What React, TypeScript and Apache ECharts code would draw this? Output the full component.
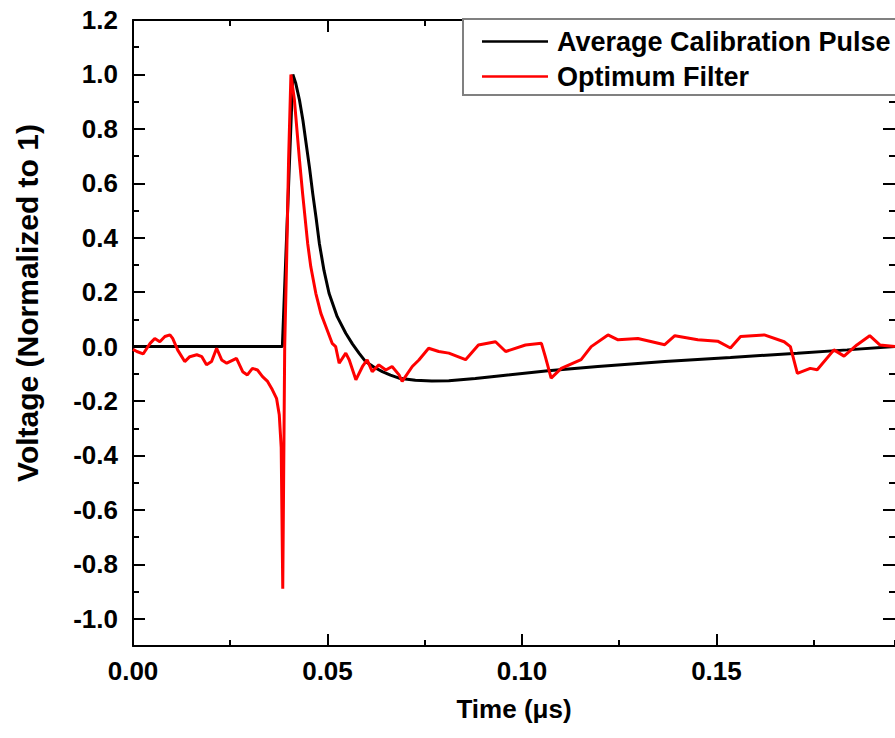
import { useEffect, useRef } from "react";
import * as echarts from "echarts";

// Axis ranges / ticks
const X_MIN = 0;
const X_MAX = 0.1959;
const X_MAJOR = 0.05;
const X_MINOR = 0.025;
const Y_MIN = -1.1;
const Y_MAX = 1.2;
const Y_MINOR = 0.1;

const SERIES_NAMES = ["Average Calibration Pulse", "Optimum Filter"];

// Average Calibration Pulse (black)
const blackT = [
  0, 0.0384, 0.0411, 0.0418, 0.0428, 0.0437, 0.0445, 0.0454, 0.0462, 0.0471,
  0.0479, 0.0491, 0.0504, 0.0525, 0.0547, 0.0564, 0.0581, 0.0598, 0.062,
  0.0641, 0.0662, 0.0684, 0.0726, 0.0768, 0.0812, 0.088, 0.094, 0.1067,
  0.1195, 0.1367, 0.1536, 0.1708, 0.1836, 0.1959,
];
const blackV = [
  0, 0, 1.0, 0.97, 0.906, 0.83, 0.747, 0.655, 0.563, 0.47, 0.38, 0.28, 0.196,
  0.11, 0.049, 0.01, -0.024, -0.055, -0.076, -0.092, -0.105, -0.116, -0.124,
  -0.126, -0.125, -0.117, -0.108, -0.089, -0.073, -0.055, -0.04, -0.024,
  -0.012, 0.0,
];

// Optimum Filter (red)
const redT = [
  0, 0.001, 0.0026, 0.0044, 0.0056, 0.0069, 0.0082, 0.0095, 0.0102, 0.0115,
  0.0133, 0.0146, 0.0164, 0.0177, 0.0189, 0.0202, 0.0215, 0.0228, 0.0241,
  0.0266, 0.0282, 0.0294, 0.0307, 0.032, 0.0333, 0.0346, 0.0358, 0.0369,
  0.0376, 0.0381, 0.0385, 0.039, 0.0395, 0.04, 0.0406, 0.0415, 0.0428,
  0.0436, 0.0449, 0.0457, 0.047, 0.0483, 0.0496, 0.0512, 0.0521, 0.053,
  0.0547, 0.0556, 0.0573, 0.059, 0.0602, 0.0615, 0.0632, 0.065, 0.0666,
  0.0684, 0.0692, 0.0718, 0.0735, 0.076, 0.0786, 0.0812, 0.0855, 0.0888,
  0.0932, 0.0958, 0.1009, 0.105, 0.106, 0.1075, 0.1101, 0.1152, 0.1178,
  0.1221, 0.1247, 0.1298, 0.1367, 0.1393, 0.1452, 0.1503, 0.1536, 0.1562,
  0.1623, 0.1674, 0.169, 0.1708, 0.1741, 0.1759, 0.1802, 0.1828, 0.1861,
  0.1894, 0.192, 0.1959,
];
const redV = [
  -0.01, -0.018, -0.027, 0.012, 0.03, 0.018, 0.037, 0.043, 0.03, -0.013,
  -0.055, -0.037, -0.03, -0.037, -0.067, -0.055, -0.006, -0.049, -0.061,
  -0.043, -0.092, -0.104, -0.08, -0.086, -0.11, -0.128, -0.158, -0.19, -0.25,
  -0.37, -0.89, 0.0, 0.32, 0.686, 1.0, 0.906, 0.686, 0.563, 0.38, 0.294,
  0.196, 0.122, 0.073, 0.012, 0.0, -0.061, -0.024, -0.049, -0.122, -0.073,
  -0.049, -0.092, -0.067, -0.086, -0.073, -0.104, -0.128, -0.073, -0.049,
  -0.006, -0.018, -0.024, -0.048, 0.006, 0.018, -0.018, 0.006, 0.012, -0.037,
  -0.116, -0.08, -0.048, 0.0, 0.043, 0.025, 0.03, 0.007, 0.04, 0.025, 0.02,
  -0.005, 0.037, 0.043, 0.018, 0.0, -0.098, -0.08, -0.085, -0.012, -0.035,
  0.006, 0.04, 0.006, 0.0,
];

const FONT = "'Liberation Sans', Arial, sans-serif";
const LEGEND_ICON = "path://M0,0H66V2.5H0Z";

export default function App() {
  const ref = useRef<HTMLDivElement>(null);

  useEffect(() => {
    if (!ref.current) return;
    const chart = echarts.init(ref.current, undefined, { renderer: "svg" });
    const axisLineStyle = { color: "#000", width: 2 };
    const labelStyle = {
      fontFamily: FONT,
      fontWeight: "bold" as const,
      fontSize: 26,
      color: "#000",
    };
    const xBase = {
      type: "value" as const,
      min: X_MIN,
      max: X_MAX,
      splitLine: { show: false },
    };
    const yBase = {
      type: "value" as const,
      min: Y_MIN,
      max: Y_MAX,
      splitLine: { show: false },
    };
    chart.setOption({
      animation: false,
      backgroundColor: "#fff",
      grid: { left: 133, right: -3, top: 20, bottom: 92, containLabel: false },
      xAxis: [
        {
          ...xBase,
          position: "bottom",
          interval: X_MAJOR,
          axisLine: { show: true, onZero: false, lineStyle: axisLineStyle },
          axisTick: { show: true, inside: true, length: 12, lineStyle: axisLineStyle },
          axisLabel: {
            ...labelStyle,
            margin: 12,
            showMaxLabel: false,
            formatter: (v: number) => v.toFixed(2),
          },
          name: "Time (\u03bcs)",
          nameLocation: "middle",
          nameGap: 50,
          nameTextStyle: { fontFamily: FONT, fontWeight: "bold", fontSize: 26, color: "#000" },
        },
        {
          ...xBase,
          position: "bottom",
          interval: X_MINOR,
          axisLine: { show: false, onZero: false },
          axisTick: { show: true, inside: true, length: 6, lineStyle: axisLineStyle },
          axisLabel: { show: false },
        },
        {
          ...xBase,
          position: "top",
          interval: X_MAJOR,
          axisLine: { show: true, onZero: false, lineStyle: axisLineStyle },
          axisTick: { show: true, inside: true, length: 12, lineStyle: axisLineStyle },
          axisLabel: { show: false },
        },
        {
          ...xBase,
          position: "top",
          interval: X_MINOR,
          axisLine: { show: false, onZero: false },
          axisTick: { show: true, inside: true, length: 6, lineStyle: axisLineStyle },
          axisLabel: { show: false },
        },
      ],
      yAxis: [
        {
          ...yBase,
          position: "left",
          splitNumber: 11,
          axisLine: { show: true, onZero: false, lineStyle: axisLineStyle },
          axisTick: { show: true, inside: true, length: 12, lineStyle: axisLineStyle },
          axisLabel: {
            ...labelStyle,
            margin: 15,
            showMinLabel: false,
            formatter: (v: number) => v.toFixed(1),
          },
        },
        {
          ...yBase,
          position: "left",
          interval: Y_MINOR,
          axisLine: { show: false, onZero: false },
          axisTick: { show: true, inside: true, length: 6, lineStyle: axisLineStyle },
          axisLabel: { show: false },
        },
        {
          ...yBase,
          position: "right",
          splitNumber: 11,
          axisLine: { show: false, onZero: false },
          axisTick: { show: true, inside: true, length: 12, lineStyle: axisLineStyle },
          axisLabel: { show: false },
        },
        {
          ...yBase,
          position: "right",
          interval: Y_MINOR,
          axisLine: { show: false, onZero: false },
          axisTick: { show: true, inside: true, length: 6, lineStyle: axisLineStyle },
          axisLabel: { show: false },
        },
      ],
      legend: {
        show: true,
        data: SERIES_NAMES.map((name) => ({ name, icon: LEGEND_ICON })),
        orient: "vertical",
        left: 463,
        top: 19,
        padding: [9, 20, 5, 19],
        itemWidth: 66,
        itemHeight: 26,
        itemGap: 8,
        symbolKeepAspect: true,
        backgroundColor: "#fff",
        borderColor: "#808080",
        borderWidth: 2,
        borderRadius: 0,
        textStyle: { fontFamily: FONT, fontWeight: "bold", fontSize: 27, color: "#000", padding: [0, 0, 0, 4] },
        z: 10,
      },
      graphic: [
        {
          type: "text",
          x: 27,
          y: 303,
          rotation: Math.PI / 2,
          style: {
            text: "Voltage (Normalized to 1)",
            font: `bold 30px ${FONT}`,
            fill: "#000",
            align: "center",
            verticalAlign: "middle",
          },
        },
      ],
      series: [
        {
          type: "line",
          name: SERIES_NAMES[0],
          xAxisIndex: 0,
          yAxisIndex: 0,
          data: blackT.map((t, i) => [t, blackV[i]]),
          symbol: "none",
          lineStyle: { color: "#000", width: 3 },
          itemStyle: { color: "#000" },
          z: 2,
        },
        {
          type: "line",
          name: SERIES_NAMES[1],
          xAxisIndex: 0,
          yAxisIndex: 0,
          data: redT.map((t, i) => [t, redV[i]]),
          symbol: "none",
          lineStyle: { color: "#ff0000", width: 3 },
          itemStyle: { color: "#ff0000" },
          z: 3,
        },
      ],
    });
    return () => chart.dispose();
  }, []);

  return (
    <div
      ref={ref}
      style={{ position: "fixed", left: 0, top: 0, width: 895, height: 738, background: "#fff" }}
    />
  );
}
